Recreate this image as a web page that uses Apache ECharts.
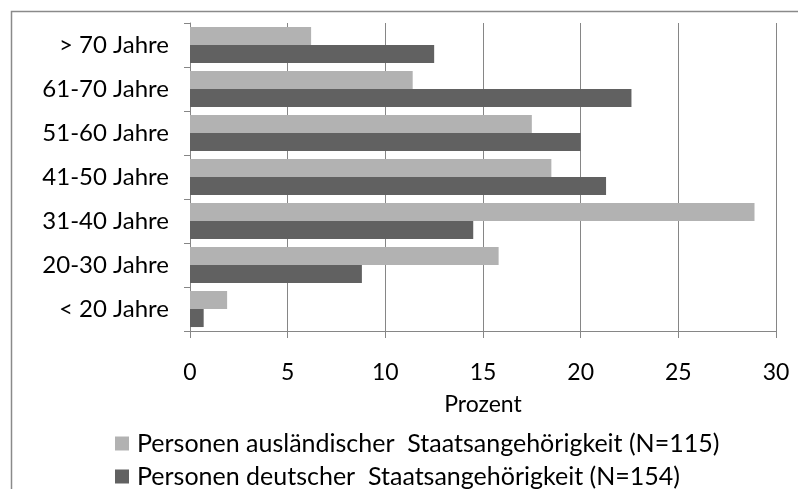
<!DOCTYPE html>
<html>
<head>
<meta charset="utf-8">
<style>
  html, body { margin: 0; padding: 0; background: #ffffff; }
  #chart { width: 798px; height: 489px; }
</style>
<script src="https://cdn.jsdelivr.net/npm/echarts@6/dist/echarts.min.js"></script>
</head>
<body>
<div id="chart"></div>
<script>
// Age groups, listed from top to bottom
const categories = ['> 70 Jahre', '61-70 Jahre', '51-60 Jahre', '41-50 Jahre', '31-40 Jahre', '20-30 Jahre', '< 20 Jahre'];

// Share per age group in percent
const auslaendisch = [6.2, 11.4, 17.5, 18.5, 28.9, 15.8, 1.9];
const deutsch = [12.5, 22.6, 20.0, 21.3, 14.5, 8.8, 0.7];

const seriesNames = [
  'Personen ausländischer  Staatsangehörigkeit (N=115)',
  'Personen deutscher  Staatsangehörigkeit (N=154)'
];
const seriesColors = ['#b2b2b2', '#616161'];

const axisMin = 0, axisMax = 30, axisStep = 5;
const FONT = 'Lato';
const GRAY = '#868686';

// one legend block per series, stacked below the axis title
function legendRow(name, top) {
  return {
    orient: 'vertical',
    left: 115,
    top: top,
    padding: 0,
    itemWidth: 14,
    itemHeight: 14,
    icon: 'rect',
    textStyle: { fontFamily: FONT, fontSize: 25, color: '#000000', padding: [0, 0, 0, 3] },
    data: [name]
  };
}

const chart = echarts.init(document.getElementById('chart'), null, { renderer: 'canvas' });

chart.setOption({
  backgroundColor: '#ffffff',
  animation: false,
  textStyle: { fontFamily: FONT },
  graphic: [{
    type: 'rect',
    shape: { x: 11.5, y: 11.5, width: 900, height: 600 },
    style: { fill: 'none', stroke: '#8a8a8a', lineWidth: 1.5 },
    silent: true
  }],
  grid: { left: 190, right: 22, top: 23, bottom: 158, containLabel: false },
  legend: [legendRow(seriesNames[0], 431), legendRow(seriesNames[1], 464)],
  xAxis: {
    type: 'value',
    min: axisMin,
    max: axisMax,
    interval: axisStep,
    name: 'Prozent',
    nameLocation: 'middle',
    nameGap: 62,
    nameTextStyle: { fontFamily: FONT, fontSize: 23, color: '#000000' },
    axisLine: { show: true, lineStyle: { color: GRAY, width: 1 } },
    axisTick: { show: true, length: 7, lineStyle: { color: GRAY, width: 1 } },
    axisLabel: { fontFamily: FONT, fontSize: 23, color: '#000000', margin: 30 },
    splitLine: { show: true, lineStyle: { color: GRAY, width: 1 } }
  },
  yAxis: {
    type: 'category',
    inverse: true,
    data: categories,
    axisLine: { show: true, lineStyle: { color: GRAY, width: 1 } },
    axisTick: { show: true, length: 6, lineStyle: { color: GRAY, width: 1 } },
    axisLabel: { fontFamily: FONT, fontSize: 24, color: '#000000', margin: 21 }
  },
  series: [
    {
      name: seriesNames[0],
      type: 'bar',
      data: auslaendisch,
      itemStyle: { color: seriesColors[0] },
      barGap: '0%',
      barCategoryGap: '18%'
    },
    {
      name: seriesNames[1],
      type: 'bar',
      data: deutsch,
      itemStyle: { color: seriesColors[1] },
      barGap: '0%',
      barCategoryGap: '18%'
    }
  ]
});
</script>
</body>
</html>
